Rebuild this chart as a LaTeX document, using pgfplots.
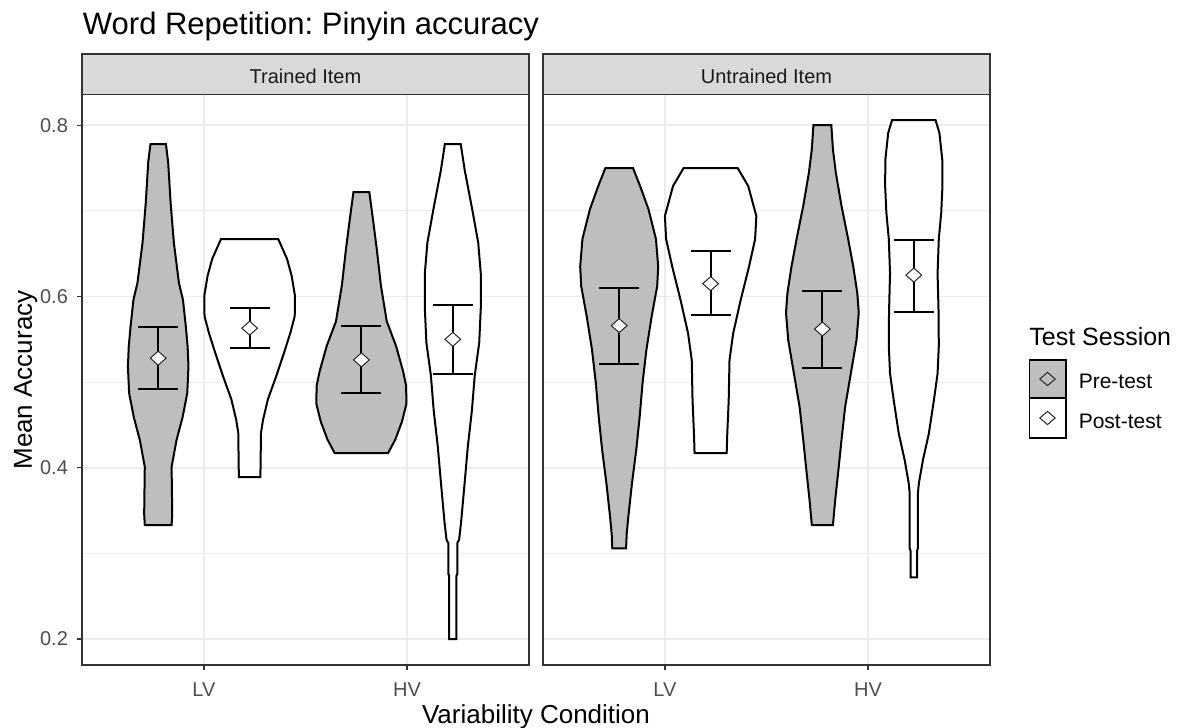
\documentclass[border=0pt]{standalone}
\usepackage{pgfplots}
\pgfplotsset{compat=1.18}
\usepackage{fontspec}
\setmainfont{Liberation Sans}
\frenchspacing
\definecolor{vgrey}{HTML}{BEBEBE}
\definecolor{gridc}{HTML}{EBEBEB}
\definecolor{grey20}{HTML}{333333}
\definecolor{grey30}{HTML}{4D4D4D}
\definecolor{stripc}{HTML}{D9D9D9}
\definecolor{grey10}{HTML}{1A1A1A}
\pgfplotsset{
  panel/.style={
    scale only axis, width=223.5pt, height=285.25pt,
    xmin=0.4, xmax=2.6, ymin=0.1697, ymax=0.8359,
    xtick={1,2}, xticklabels={LV,HV},
    ytick={0.2,0.4,0.6,0.8}, minor ytick={0.3,0.5,0.7},
    xtick pos=bottom, ytick pos=left,
    xmajorgrids, ymajorgrids, yminorgrids,
    major grid style={color=gridc, line width=0.9pt},
    minor grid style={color=gridc, line width=0.5pt},
    axis line style={color=grey20, line width=0.7pt},
    tick style={color=grey20, line width=0.7pt},
    tick align=outside, major tick length=2.75pt, minor tick length=0pt,
    /pgf/number format/assume math mode=true,
    ticklabel style={font=\fontsize{10}{12}\selectfont, text=grey30},
    yticklabel style={/pgf/number format/fixed, /pgf/number format/precision=1, anchor=east, inner sep=0pt, xshift=-4.1pt},
    xticklabel style={anchor=base, inner sep=0pt, yshift=-13pt},
  },
  violinpre/.style={fill=vgrey, draw=black, line width=1pt},
  violinpost/.style={fill=white, draw=black, line width=1pt},
  means/.style={only marks, mark=diamond*, mark size=3.5pt,
    mark options={fill=white, draw=black!85, line width=0.5pt, xscale=1.5},
    error bars/.cd, y dir=both, y explicit,
    error bar style={line width=1pt, black},
    error mark options={rotate=90, mark size=10pt, line width=1pt, black}},
}
\begin{document}
\begin{tikzpicture}
\useasboundingbox (0,0) rectangle (595.5pt,364pt);
% ---------- Panel 1: Trained Item ----------
\begin{axis}[panel, at={(41pt,31.5pt)}, anchor=south west]
\addplot[violinpre] coordinates {
(0.841,0.333)(0.844,0.346)(0.841,0.401)(0.865,0.432)(0.895,0.459)(0.918,0.487)(0.924,0.518)(0.920,0.541)(0.911,0.565)(0.897,0.596)(0.877,0.616)(0.852,0.663)(0.836,0.710)(0.824,0.757)(0.813,0.778)
(0.737,0.778)(0.726,0.757)(0.714,0.710)(0.698,0.663)(0.673,0.616)(0.653,0.596)(0.639,0.565)(0.630,0.541)(0.626,0.518)(0.632,0.487)(0.655,0.459)(0.685,0.432)(0.709,0.401)(0.706,0.346)(0.709,0.333)
} -- cycle;
\addplot[violinpost] coordinates {
(1.278,0.389)(1.281,0.441)(1.291,0.456)(1.315,0.480)(1.356,0.507)(1.394,0.534)(1.426,0.558)(1.447,0.577)(1.448,0.601)(1.432,0.624)(1.409,0.644)(1.366,0.667)
(1.084,0.667)(1.041,0.644)(1.018,0.624)(1.002,0.601)(1.003,0.577)(1.024,0.558)(1.056,0.534)(1.094,0.507)(1.135,0.480)(1.159,0.456)(1.169,0.441)(1.172,0.389)
} -- cycle;
\addplot[violinpre] coordinates {
(1.906,0.417)(1.942,0.433)(1.975,0.454)(1.997,0.475)(1.995,0.496)(1.980,0.513)(1.946,0.542)(1.900,0.571)(1.871,0.613)(1.851,0.655)(1.831,0.692)(1.814,0.722)
(1.736,0.722)(1.719,0.692)(1.699,0.655)(1.679,0.613)(1.650,0.571)(1.604,0.542)(1.570,0.513)(1.555,0.496)(1.553,0.475)(1.575,0.454)(1.608,0.433)(1.644,0.417)
} -- cycle;
\addplot[violinpost] coordinates {
(2.243,0.200)(2.243,0.274)(2.247,0.276)(2.247,0.312)(2.256,0.316)(2.266,0.337)(2.282,0.379)(2.299,0.425)(2.319,0.467)(2.333,0.508)(2.355,0.546)(2.363,0.588)(2.363,0.626)(2.350,0.663)(2.318,0.705)(2.284,0.747)(2.264,0.778)
(2.186,0.778)(2.166,0.747)(2.132,0.705)(2.100,0.663)(2.087,0.626)(2.087,0.588)(2.095,0.546)(2.117,0.508)(2.131,0.467)(2.151,0.425)(2.168,0.379)(2.184,0.337)(2.194,0.316)(2.203,0.312)(2.203,0.276)(2.207,0.274)(2.207,0.200)
} -- cycle;
\addplot[means] coordinates {
(0.775,0.528) += (0,0.036) -= (0,0.036)
(1.225,0.563) += (0,0.023) -= (0,0.023)
(1.775,0.526) += (0,0.040) -= (0,0.0385)
(2.225,0.550) += (0,0.040) -= (0,0.041)
};
\end{axis}
% ---------- Panel 2: Untrained Item ----------
\begin{axis}[panel, at={(271.5pt,31.5pt)}, anchor=south west, yticklabels={}, ytick style={draw=none}]
\addplot[violinpre] coordinates {
(0.809,0.306)(0.812,0.323)(0.820,0.343)(0.838,0.382)(0.859,0.421)(0.876,0.460)(0.890,0.499)(0.909,0.538)(0.935,0.577)(0.962,0.612)(0.967,0.635)(0.956,0.667)(0.919,0.702)(0.878,0.729)(0.843,0.750)
(0.707,0.750)(0.672,0.729)(0.631,0.702)(0.594,0.667)(0.583,0.635)(0.588,0.612)(0.615,0.577)(0.641,0.538)(0.660,0.499)(0.674,0.460)(0.691,0.421)(0.712,0.382)(0.730,0.343)(0.738,0.323)(0.741,0.306)
} -- cycle;
\addplot[violinpost] coordinates {
(1.304,0.417)(1.307,0.440)(1.314,0.479)(1.318,0.526)(1.336,0.557)(1.373,0.596)(1.414,0.635)(1.444,0.667)(1.450,0.694)(1.410,0.729)(1.358,0.750)
(1.092,0.750)(1.040,0.729)(1.000,0.694)(1.006,0.667)(1.036,0.635)(1.077,0.596)(1.114,0.557)(1.132,0.526)(1.136,0.479)(1.143,0.440)(1.146,0.417)
} -- cycle;
\addplot[violinpre] coordinates {
(1.827,0.333)(1.838,0.362)(1.852,0.393)(1.869,0.432)(1.887,0.471)(1.915,0.510)(1.943,0.549)(1.954,0.581)(1.947,0.604)(1.927,0.635)(1.902,0.667)(1.869,0.706)(1.841,0.745)(1.827,0.772)(1.819,0.800)
(1.731,0.800)(1.723,0.772)(1.709,0.745)(1.681,0.706)(1.648,0.667)(1.623,0.635)(1.603,0.604)(1.596,0.581)(1.607,0.549)(1.635,0.510)(1.663,0.471)(1.681,0.432)(1.698,0.393)(1.712,0.362)(1.723,0.333)
} -- cycle;
\addplot[violinpost] coordinates {
(2.241,0.272)(2.241,0.303)(2.245,0.306)(2.245,0.370)(2.250,0.382)(2.270,0.409)(2.299,0.440)(2.324,0.479)(2.342,0.510)(2.348,0.542)(2.347,0.581)(2.342,0.627)(2.348,0.667)(2.360,0.698)(2.366,0.729)(2.365,0.760)(2.351,0.791)(2.332,0.806)
(2.118,0.806)(2.099,0.791)(2.085,0.760)(2.084,0.729)(2.090,0.698)(2.102,0.667)(2.108,0.627)(2.103,0.581)(2.102,0.542)(2.108,0.510)(2.126,0.479)(2.151,0.440)(2.180,0.409)(2.200,0.382)(2.205,0.370)(2.205,0.306)(2.209,0.303)(2.209,0.272)
} -- cycle;
\addplot[means] coordinates {
(0.775,0.566) += (0,0.044) -= (0,0.045)
(1.225,0.615) += (0,0.038) -= (0,0.037)
(1.775,0.562) += (0,0.044) -= (0,0.046)
(2.225,0.625) += (0,0.0415) -= (0,0.043)
};
\end{axis}
% ---------- strips ----------
\draw[fill=stripc, draw=grey20, line width=0.7pt] (41pt,316.75pt) rectangle (264.5pt,337pt);
\draw[fill=stripc, draw=grey20, line width=0.7pt] (271.5pt,316.75pt) rectangle (495pt,337pt);
\node[anchor=base, inner sep=0pt, text=grey10, font=\fontsize{10}{12}\selectfont] at (152.75pt,322.35pt) {Trained Item};
\node[anchor=base, inner sep=0pt, text=grey10, font=\fontsize{10}{12}\selectfont] at (383.25pt,322.35pt) {Untrained Item};
% ---------- titles ----------
\node[anchor=base west, inner sep=0pt, font=\fontsize{15.5}{18}\selectfont] at (41.3pt,346.5pt) {Word Repetition: Pinyin accuracy};
\node[anchor=base, inner sep=0pt, rotate=90, font=\fontsize{13}{15}\selectfont] at (16pt,174pt) {Mean Accuracy};
\node[anchor=base, inner sep=0pt, font=\fontsize{13}{15}\selectfont] at (268pt,2.2pt) {Variability Condition};
% ---------- legend ----------
\node[anchor=base west, inner sep=0pt, font=\fontsize{12.5}{15}\selectfont] at (514.5pt,191.15pt) {Test Session};
\draw[fill=vgrey, draw=black, line width=0.9pt] (514.7pt,164.85pt) rectangle (532.85pt,184pt);
\draw[fill=white, draw=black, line width=0.9pt] (514.7pt,144.85pt) rectangle (532.85pt,164.85pt);
\draw[fill=vgrey, draw=black!85, line width=0.5pt] (523.75pt,177.8pt) -- (527.6pt,174.5pt) -- (523.75pt,171.2pt) -- (519.9pt,174.5pt) -- cycle;
\draw[fill=white, draw=black!85, line width=0.5pt] (523.75pt,158.3pt) -- (527.6pt,155pt) -- (523.75pt,151.7pt) -- (519.9pt,155pt) -- cycle;
\node[anchor=base west, inner sep=0pt, font=\fontsize{10.5}{12}\selectfont] at (539.2pt,169.5pt) {Pre-test};
\node[anchor=base west, inner sep=0pt, font=\fontsize{10.5}{12}\selectfont] at (539.2pt,149.8pt) {Post-test};
\end{tikzpicture}
\end{document}
